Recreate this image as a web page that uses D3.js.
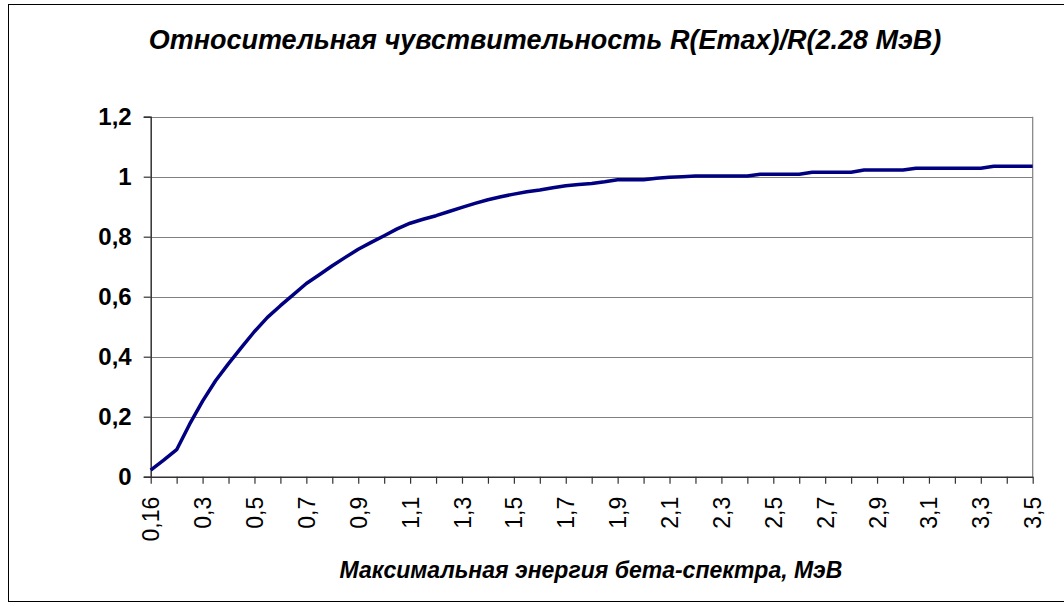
<!DOCTYPE html>
<html>
<head>
<meta charset="utf-8">
<script src="https://cdn.jsdelivr.net/npm/d3@7"></script>
<style>
  html, body { margin: 0; padding: 0; background: #fff; }
  svg { display: block; font-family: "Liberation Sans", Arial, sans-serif; }
</style>
</head>
<body>
<svg id="chart" width="1064" height="606"></svg>
<script>
// Category axis: maximum beta-spectrum energy, MeV
const energies = [0.16, 0.18, 0.2, 0.25, 0.3, 0.35, 0.4, 0.45, 0.5, 0.55,
  0.6, 0.65, 0.7, 0.75, 0.8, 0.85, 0.9, 0.95, 1.0, 1.05,
  1.1, 1.15, 1.2, 1.25, 1.3, 1.35, 1.4, 1.45, 1.5, 1.55,
  1.6, 1.65, 1.7, 1.75, 1.8, 1.85, 1.9, 1.95, 2.0, 2.05,
  2.1, 2.15, 2.2, 2.25, 2.3, 2.35, 2.4, 2.45, 2.5, 2.55,
  2.6, 2.65, 2.7, 2.75, 2.8, 2.85, 2.9, 2.95, 3.0, 3.05,
  3.1, 3.15, 3.2, 3.25, 3.3, 3.35, 3.4, 3.45, 3.5];

// Relative sensitivity R(Emax)/R(2.28 MeV)
const sensitivity = [0.022, 0.055, 0.09, 0.175, 0.252, 0.32, 0.377, 0.431, 0.484, 0.531,
  0.57, 0.607, 0.644, 0.673, 0.703, 0.731, 0.758, 0.781, 0.803, 0.826,
  0.845, 0.858, 0.87, 0.884, 0.898, 0.911, 0.923, 0.933, 0.942, 0.95,
  0.956, 0.963, 0.97, 0.974, 0.977, 0.983, 0.99, 0.99, 0.99, 0.995,
  0.998, 1.0, 1.002, 1.002, 1.002, 1.002, 1.002, 1.008, 1.008, 1.008,
  1.008, 1.015, 1.015, 1.015, 1.015, 1.022, 1.022, 1.022, 1.022, 1.028,
  1.028, 1.028, 1.028, 1.028, 1.028, 1.035, 1.035, 1.035, 1.035];

// Tick marks (every 2nd category) and labelled categories (every 4th)
const tickCategories = [0.16, 0.2, 0.3, 0.4, 0.5, 0.6, 0.7, 0.8, 0.9, 1.0,
  1.1, 1.2, 1.3, 1.4, 1.5, 1.6, 1.7, 1.8, 1.9, 2.0,
  2.1, 2.2, 2.3, 2.4, 2.5, 2.6, 2.7, 2.8, 2.9, 3.0,
  3.1, 3.2, 3.3, 3.4, 3.5];
const labelCategories = [0.16, 0.3, 0.5, 0.7, 0.9, 1.1, 1.3, 1.5, 1.7, 1.9,
  2.1, 2.3, 2.5, 2.7, 2.9, 3.1, 3.3, 3.5];
const yTicks = [0, 0.2, 0.4, 0.6, 0.8, 1, 1.2];

const titleText = "Относительная чувствительность R(Emax)/R(2.28 МэВ)";
const xTitleText = "Максимальная энергия бета-спектра, МэВ";

const svg = d3.select("#chart");
const plotLeft = 150.7, plotRight = 1032.7, plotTop = 116.7, plotBottom = 476.7;

const comma = v => String(v).replace(".", ",");

// outer chart border
svg.append("rect")
  .attr("x", 8.5).attr("y", 4.5).attr("width", 1070).attr("height", 597)
  .attr("fill", "#fff").attr("stroke", "#000").attr("stroke-width", 1);

const x = d3.scalePoint().domain(energies.map(String)).range([plotLeft, plotRight]).padding(0);
const y = d3.scaleLinear().domain([0, 1.2]).range([plotBottom, plotTop]);

// gridlines
svg.append("g")
  .selectAll("line").data(yTicks.filter(d => d > 0)).join("line")
  .attr("x1", plotLeft).attr("x2", plotRight)
  .attr("y1", d => Math.round(y(d)) + 0.5).attr("y2", d => Math.round(y(d)) + 0.5)
  .attr("stroke", "#808080").attr("stroke-width", 1.2);

// right plot border
svg.append("line")
  .attr("x1", plotRight).attr("x2", plotRight).attr("y1", plotTop).attr("y2", plotBottom)
  .attr("stroke", "#808080").attr("stroke-width", 1.2);

// Y axis
const yAxis = d3.axisLeft(y).tickValues(yTicks).tickSize(7).tickPadding(12)
  .tickFormat(d => comma(d));
const gy = svg.append("g").attr("transform", `translate(${plotLeft},0)`).call(yAxis);
gy.select(".domain").attr("stroke", "#333").attr("stroke-width", 1.5);
gy.selectAll(".tick line").attr("stroke", "#333").attr("stroke-width", 1.2);
gy.selectAll(".tick text")
  .attr("font-size", 24).attr("font-weight", "bold").attr("fill", "#000")
  .attr("font-family", "'Liberation Sans', Arial, sans-serif");

// X axis
const labelSet = new Set(labelCategories.map(String));
const xAxis = d3.axisBottom(x).tickValues(tickCategories.map(String)).tickSize(7)
  .tickSizeOuter(0)
  .tickFormat(d => labelSet.has(d) ? comma(d) : "");
const gx = svg.append("g").attr("transform", `translate(0,${plotBottom})`).call(xAxis);
gx.select(".domain").attr("stroke", "#333").attr("stroke-width", 1.5);
gx.selectAll(".tick line").attr("stroke", "#333").attr("stroke-width", 1.2);
gx.selectAll(".tick text")
  .attr("font-size", 23).attr("fill", "#000")
  .attr("font-family", "'Liberation Sans', Arial, sans-serif")
  .attr("text-anchor", "end")
  .attr("dy", "0.35em")
  .attr("transform", "translate(0,20) rotate(-90)")
  .attr("x", 0).attr("y", 0);

// line
const line = d3.line()
  .x((d, i) => x(String(energies[i])))
  .y(d => y(d));
svg.append("path")
  .datum(sensitivity)
  .attr("d", line)
  .attr("fill", "none")
  .attr("stroke", "#000080")
  .attr("stroke-width", 3.5)
  .attr("stroke-linejoin", "round");

// titles
svg.append("text")
  .attr("x", 545).attr("y", 49)
  .attr("text-anchor", "middle")
  .attr("font-size", 27).attr("font-weight", "bold").attr("font-style", "italic")
  .text(titleText);

svg.append("text")
  .attr("x", 591).attr("y", 578)
  .attr("text-anchor", "middle")
  .attr("font-size", 23).attr("font-weight", "bold").attr("font-style", "italic")
  .text(xTitleText);
</script>
</body>
</html>
